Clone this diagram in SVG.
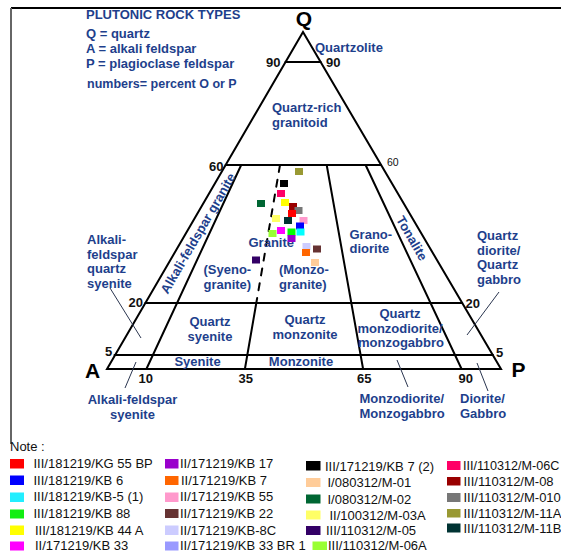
<svg xmlns="http://www.w3.org/2000/svg" width="561" height="551" viewBox="0 0 561 551">
<style>
  text { font-family: "Liberation Sans", Arial, sans-serif; }
  .lbl { fill: #1e3f8c; font-size: 13px; font-weight: bold; }
  .hdr { fill: #1e3f8c; font-size: 13px; font-weight: bold; }
  .num { fill: #111; font-size: 13px; font-weight: bold; }
  .apex { fill: #000; font-size: 21px; font-weight: bold; }
  .leg { fill: #111; font-size: 13px; }
  .ln { stroke: #000; stroke-width: 2; fill: none; stroke-linecap: round; }
  .lead { stroke: #2b3650; stroke-width: 1; fill: none; }
</style>
<rect x="0" y="0" width="561" height="551" fill="#fff"/>
<g id="frame">
  <line x1="11" y1="8" x2="561" y2="8" stroke="#000" stroke-width="1.8"/>
  <line x1="11" y1="8" x2="11" y2="444" stroke="#666" stroke-width="2"/>
</g>
<g id="key-text">
  <text class="hdr" x="86" y="19">PLUTONIC ROCK TYPES</text>
  <text class="hdr" x="86" y="38">Q = quartz</text>
  <text class="hdr" x="86" y="53">A = alkali feldspar</text>
  <text class="hdr" x="86" y="68">P = plagioclase feldspar</text>
  <text class="hdr" x="87" y="88" style="font-size:12.5px">numbers= percent O or P</text>
</g>
<g id="triangle">
  <path class="ln" d="M107,369 L303,32 L501,369 Z"/>
  <line class="ln" x1="285.5" y1="62" x2="320.6" y2="62"/>
  <line class="ln" x1="225.6" y1="165" x2="381" y2="165"/>
  <line class="ln" x1="145.4" y1="303" x2="462.2" y2="303"/>
  <line class="ln" x1="114.5" y1="355" x2="493" y2="355"/>
  <line class="ln" x1="241.2" y1="165" x2="146.4" y2="369"/>
  <line class="ln" x1="280" y1="165" x2="256.3" y2="303" stroke-dasharray="7,8" stroke-linecap="butt"/>
  <line class="ln" x1="256.3" y1="303" x2="244.9" y2="369"/>
  <line class="ln" x1="326.7" y1="165" x2="363.1" y2="369"/>
  <line class="ln" x1="365.6" y1="165" x2="461.6" y2="369"/>
</g>
<g id="leaders">
  <line class="lead" x1="110" y1="288" x2="141" y2="338"/>
  <line class="lead" x1="136" y1="362" x2="125" y2="388"/>
  <line class="lead" x1="397" y1="360" x2="408" y2="387"/>
  <line class="lead" x1="477" y1="363" x2="488" y2="391"/>
  <line class="lead" x1="499" y1="292" x2="467" y2="335"/>
</g>
<g id="apex-labels">
  <text class="apex" x="304" y="26" text-anchor="middle">Q</text>
  <text class="apex" x="92.5" y="378" text-anchor="middle">A</text>
  <text class="apex" x="518.5" y="377" text-anchor="middle">P</text>
</g>
<g id="numbers">
  <text class="num" x="266" y="67">90</text>
  <text class="num" x="326" y="67">90</text>
  <text class="num" x="209" y="170.5">60</text>
  <text x="387" y="165.5" style="font-size:10.5px;fill:#111">60</text>
  <text class="num" x="128.5" y="307">20</text>
  <text class="num" x="465.5" y="307.5">20</text>
  <text class="num" x="105" y="356">5</text>
  <text class="num" x="496" y="357">5</text>
  <text class="num" x="138.5" y="383">10</text>
  <text class="num" x="238.5" y="383">35</text>
  <text class="num" x="357" y="383">65</text>
  <text class="num" x="458.5" y="383">90</text>
</g>
<g id="fields">
  <text class="lbl" x="315" y="52">Quartzolite</text>
  <text class="lbl" x="272" y="112">Quartz-rich</text>
  <text class="lbl" x="272" y="127">granitoid</text>
  <text class="lbl" x="202" y="235.5" text-anchor="middle" transform="rotate(-60 202 235.5)">Alkali-feldspar granite</text>
  <text class="lbl" x="408" y="240.5" text-anchor="middle" transform="rotate(60 408 240.5)">Tonalite</text>
  <text class="lbl" x="248.5" y="246.5">Granite</text>
  <text class="lbl" x="203.5" y="273.5">(Syeno-</text>
  <text class="lbl" x="203.5" y="288.5">granite)</text>
  <text class="lbl" x="279" y="273.5">(Monzo-</text>
  <text class="lbl" x="279" y="288.5">granite)</text>
  <text class="lbl" x="349.5" y="238.5">Grano-</text>
  <text class="lbl" x="349.5" y="252.5">diorite</text>
  <text class="lbl" x="477" y="240">Quartz</text>
  <text class="lbl" x="477" y="254.5">diorite/</text>
  <text class="lbl" x="477" y="269">Quartz</text>
  <text class="lbl" x="477" y="283.5">gabbro</text>
  <text class="lbl" x="87" y="244">Alkali-</text>
  <text class="lbl" x="87" y="258.5">feldspar</text>
  <text class="lbl" x="87" y="273">quartz</text>
  <text class="lbl" x="87" y="288">syenite</text>
  <text class="lbl" x="210" y="325.5" text-anchor="middle">Quartz</text>
  <text class="lbl" x="210" y="340.5" text-anchor="middle">syenite</text>
  <text class="lbl" x="305" y="323.5" text-anchor="middle">Quartz</text>
  <text class="lbl" x="305" y="338.5" text-anchor="middle">monzonite</text>
  <text class="lbl" x="400" y="317.5" text-anchor="middle">Quartz</text>
  <text class="lbl" x="400" y="332.5" text-anchor="middle">monzodiorite/</text>
  <text class="lbl" x="401" y="347" text-anchor="middle">monzogabbro</text>
  <text class="lbl" x="197.5" y="366" text-anchor="middle">Syenite</text>
  <text class="lbl" x="301" y="366" text-anchor="middle">Monzonite</text>
  <text class="lbl" x="132.5" y="403.5" text-anchor="middle">Alkali-feldspar</text>
  <text class="lbl" x="132.5" y="418.5" text-anchor="middle">syenite</text>
  <text class="lbl" x="359.5" y="403">Monzodiorite/</text>
  <text class="lbl" x="359.5" y="417.5">Monzogabbro</text>
  <text class="lbl" x="460" y="403">Diorite/</text>
  <text class="lbl" x="460" y="417.5">Gabbro</text>
</g>
<g id="samples">
  <rect x="295" y="168" width="8" height="7" fill="#999933"/>
  <rect x="280" y="180" width="8" height="7" fill="#000000"/>
  <rect x="277" y="190" width="8" height="7" fill="#ff0066"/>
  <rect x="257" y="200" width="8" height="7" fill="#006633"/>
  <rect x="281" y="199" width="8" height="7" fill="#ffff00"/>
  <rect x="289" y="203" width="8" height="7" fill="#990000"/>
  <rect x="294.5" y="207" width="8" height="7" fill="#777777"/>
  <rect x="288" y="210" width="8" height="7" fill="#ff0000"/>
  <rect x="272" y="215" width="8" height="7" fill="#ffff66"/>
  <rect x="284" y="217" width="8" height="7" fill="#003333"/>
  <rect x="299.5" y="217" width="8" height="7" fill="#ff99cc"/>
  <rect x="296" y="222.5" width="8" height="7" fill="#0000ff"/>
  <rect x="296.5" y="228.5" width="8" height="7" fill="#00ffff"/>
  <rect x="287.5" y="228.5" width="8" height="7" fill="#00ff00"/>
  <rect x="277" y="227" width="8" height="7" fill="#ff00ff"/>
  <rect x="268.5" y="230" width="8" height="7" fill="#99ff33"/>
  <rect x="287.5" y="235" width="8" height="7" fill="#9900cc"/>
  <rect x="302.5" y="243" width="8" height="7" fill="#ccccff"/>
  <rect x="313" y="245.5" width="8" height="7" fill="#663333"/>
  <rect x="302" y="249" width="8" height="7" fill="#ff6600"/>
  <rect x="311" y="259" width="8" height="7" fill="#ffcc99"/>
  <rect x="252" y="256.5" width="8" height="7" fill="#330066"/>
</g>
<g id="legend">
  <text class="leg" x="10" y="451">Note :</text>
  <rect x="10" y="459" width="14" height="9.5" fill="#ff0000"/>
  <text class="leg" x="33.5" y="468">III/181219/KG 55 BP</text>
  <rect x="10" y="475.5" width="14" height="9.5" fill="#0000ff"/>
  <text class="leg" x="33.5" y="484.5">III/181219/KB 6</text>
  <rect x="10" y="492.5" width="14" height="9.5" fill="#22eeff"/>
  <text class="leg" x="33.5" y="501">III/181219/KB-5 (1)</text>
  <rect x="10" y="509.5" width="14" height="9" fill="#11ee11"/>
  <text class="leg" x="33.5" y="518">III/181219/KB 88</text>
  <rect x="10" y="525.5" width="14" height="9.5" fill="#ffff00"/>
  <text class="leg" x="35" y="534.5">III/181219/KB 44 A</text>
  <rect x="10" y="541.5" width="14" height="9" fill="#ff00ff"/>
  <text class="leg" x="35" y="549.5">II/171219/KB 33</text>

  <rect x="165" y="459" width="13.5" height="9.5" fill="#9900cc"/>
  <text class="leg" x="180" y="468">II/171219/KB 17</text>
  <rect x="165" y="476" width="13.5" height="9" fill="#ff6600"/>
  <text class="leg" x="181" y="485">II/171219/KB 7</text>
  <rect x="165" y="492.5" width="13.5" height="9.5" fill="#ff99cc"/>
  <text class="leg" x="180" y="501">II/171219/KB 55</text>
  <rect x="165" y="509" width="13.5" height="9" fill="#663333"/>
  <text class="leg" x="180" y="518">II/171219/KB 22</text>
  <rect x="165" y="525.5" width="13.5" height="9.5" fill="#ccccff"/>
  <text class="leg" x="180" y="534.5">II/171219/KB-8C</text>
  <rect x="165" y="541.5" width="13.5" height="9" fill="#9999ff"/>
  <text class="leg" x="180" y="549.5">II/171219/KB 33 BR 1</text>

  <rect x="306" y="461" width="14.5" height="9.5" fill="#000000"/>
  <text class="leg" x="325" y="470.5">III/171219/KB 7 (2)</text>
  <rect x="306" y="478" width="14.5" height="9" fill="#ffcc99"/>
  <text class="leg" x="327.5" y="487">I/080312/M-01</text>
  <rect x="306" y="494.5" width="14.5" height="9" fill="#006633"/>
  <text class="leg" x="327.5" y="503.5">I/080312/M-02</text>
  <rect x="306" y="510.5" width="14.5" height="9" fill="#ffff66"/>
  <text class="leg" x="329.5" y="519.5">II/100312/M-03A</text>
  <rect x="306" y="526" width="14.5" height="9" fill="#330066"/>
  <text class="leg" x="326" y="535">III/110312/M-05</text>
  <rect x="312.5" y="541.5" width="14.5" height="8.5" fill="#99ff33"/>
  <text class="leg" x="328" y="549.5">III/110312/M-06A</text>

  <rect x="447" y="461" width="13.5" height="9" fill="#ff0066"/>
  <text class="leg" x="463" y="470" style="font-size:12.6px">III/110312/M-06C</text>
  <rect x="447" y="477" width="13.5" height="8.5" fill="#990000"/>
  <text class="leg" x="463.5" y="486">III/110312/M-08</text>
  <rect x="447" y="493" width="13.5" height="9" fill="#777777"/>
  <text class="leg" x="463.5" y="502">III/110312/M-010</text>
  <rect x="447" y="509" width="13.5" height="8.5" fill="#999933"/>
  <text class="leg" x="463.5" y="518">III/110312/M-11A</text>
  <rect x="447" y="523.5" width="13.5" height="9" fill="#003333"/>
  <text class="leg" x="463.5" y="532.5">III/110312/M-11B</text>
</g>
</svg>
